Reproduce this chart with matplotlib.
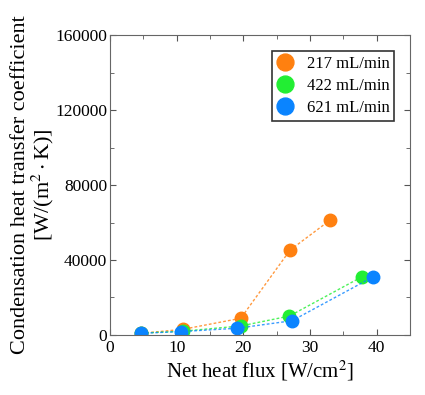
import matplotlib
matplotlib.use('Agg')
import matplotlib.pyplot as plt
from matplotlib.ticker import MultipleLocator

plt.rcParams['font.family'] = ['Liberation Serif', 'DejaVu Serif']
plt.rcParams['mathtext.fontset'] = 'stix'

# net heat flux [W/cm2] and condensation HTC [W/(m2 K)]
flux_217 = [4.7, 10.9, 19.6, 27.0, 33.0]
htc_217 = [900, 3000, 8900, 45300, 61300]
flux_422 = [4.7, 10.9, 19.6, 26.9, 37.8]
htc_422 = [1000, 2000, 4800, 10100, 31100]
flux_621 = [4.6, 10.7, 19.1, 27.3, 39.5]
htc_621 = [900, 1800, 3600, 7600, 31100]

labels = ['217 mL/min', '422 mL/min', '621 mL/min']
colors = ['#FF8010', '#22EE33', '#0A84FF']

fig = plt.figure(figsize=(4.25, 3.95), dpi=100)
ax = fig.add_axes([0.259, 0.152, 0.706, 0.759])

series = [(flux_217, htc_217), (flux_422, htc_422), (flux_621, htc_621)]
for (x, y), lab, c in zip(series, labels, colors):
    ax.plot(x, y, ls=(0, (2, 1.5)), lw=1, color=c, alpha=0.8)
    ax.plot(x, y, ls='none', marker='o', ms=9, color=c, label=lab)

ax.set_xlim(0, 45)
ax.set_ylim(0, 160000)
ax.xaxis.set_major_locator(MultipleLocator(10))
ax.xaxis.set_minor_locator(MultipleLocator(5))
ax.yaxis.set_major_locator(MultipleLocator(40000))
ax.yaxis.set_minor_locator(MultipleLocator(20000))
ax.tick_params(which='both', direction='in', top=True, right=True,
               labelsize=12.5, color='#555555')
ax.tick_params(axis='y', pad=2)
ax.tick_params(which='major', length=4)
ax.tick_params(which='minor', length=3)
for s in ax.spines.values():
    s.set_color('#666666')

ax.set_xlabel('Net heat flux [W/cm$^2$]', fontsize=15, labelpad=2)
ax.set_ylabel('Condensation heat transfer coefficient\n[W/(m$^2\\cdot$K)]',
              fontsize=16, linespacing=1.0)
ax.yaxis.set_label_coords(-0.18, 0.5)

leg = ax.legend(loc='upper right', bbox_to_anchor=(0.975, 0.975), fontsize=12,
                frameon=True, fancybox=False, edgecolor='black',
                markerscale=1.35, handlelength=1.0, borderpad=0.3,
                labelspacing=0.35, handletextpad=0.8)
leg.get_frame().set_linewidth(1.2)

fig.savefig('out.png', dpi=100)
